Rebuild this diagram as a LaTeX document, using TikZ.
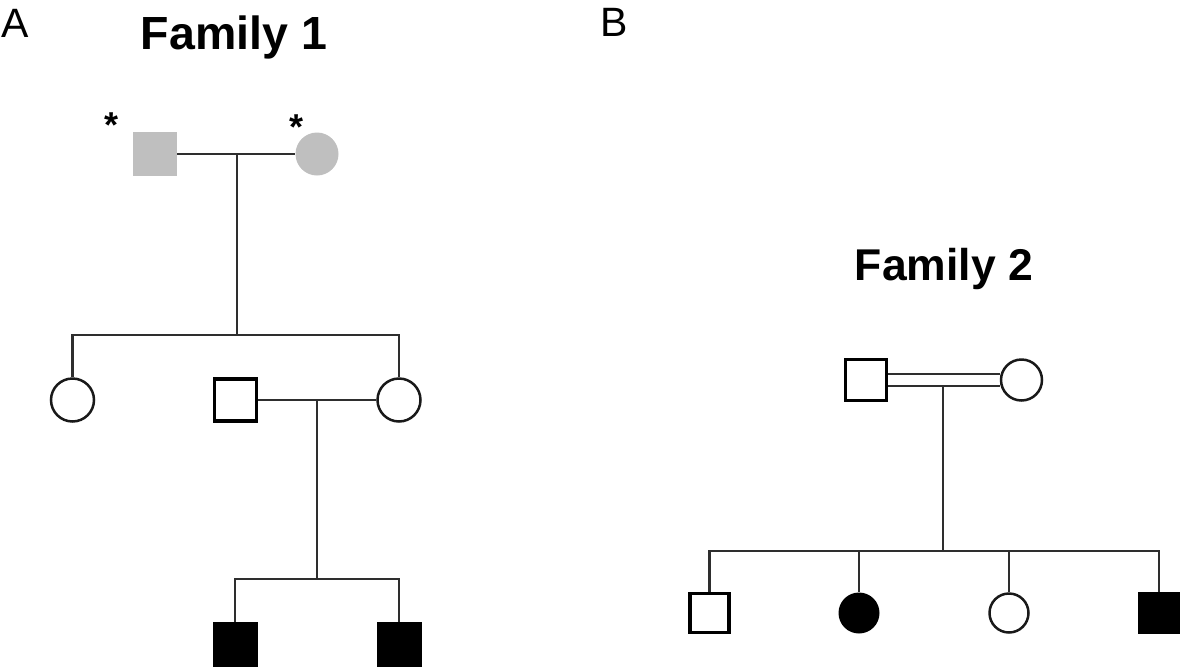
\documentclass[tikz,border=0pt]{standalone}
\usepackage{fontspec}
\setmainfont{Liberation Sans}
\usetikzlibrary{calc}
\definecolor{linec}{HTML}{2E2E2E}
\definecolor{grayfill}{HTML}{BFBFBF}
\tikzset{
  conn/.style={draw=linec, line width=2.4pt},
  male/.style={rectangle, minimum size=44pt, inner sep=0pt},
  female/.style={circle, minimum size=43pt, inner sep=0pt},
  carrier/.style={fill=grayfill, draw=none},
  openthick/.style={draw=black, line width=3.8pt, fill=white},
  openthin/.style={draw=black!90, line width=2.5pt, fill=white},
  affected/.style={fill=black, draw=none},
  panel/.style={anchor=base west, inner sep=0pt, font=\fontsize{41}{44}\selectfont},
  title/.style={anchor=base, inner sep=0pt, font=\fontsize{46.5}{50}\selectfont\bfseries},
  star/.style={anchor=base, inner sep=0pt, font=\fontsize{36}{40}\selectfont\bfseries},
}
\begin{document}
\begin{tikzpicture}[x=1pt, y=-1pt]
\useasboundingbox (0,0) rectangle (1200,670);
% labels
\node[panel] (pa) at (1,37) {A};
\node[panel] (pb) at (600,36) {B};
\node[title] (t1) at (234,49) {Family 1};
\node[title, font=\fontsize{44.5}{48}\selectfont\bfseries] (t2) at (944,280) {Family 2};

% ---------- Family 1 ----------
\node[male, carrier] (f1) at (155,154) {};
\node[female, carrier] (m1) at (317,154) {};
\node[star] (s1) at (112,137) {*};
\node[star] (s2) at (297,139) {*};
\coordinate (j1) at (237,154);
\draw[conn] (f1.east) -- (m1.west);

\node[female, openthin] (c1) at (72.5,400) {};
\node[male, openthick, minimum size=42pt] (h1) at (235.5,400) {};
\node[female, openthin] (c3) at (399,400) {};
\coordinate (sib1) at (237,335);
\coordinate (sib1l) at (72.5,335);
\coordinate (sib1r) at (399,335);
\draw[conn] (j1) -- (sib1);
\draw[conn] (c1.north) -- (sib1l) -- (sib1r) -- (c3.north);
\draw[conn] (h1.east) -- (c3.west);
\coordinate (j2) at (317,400);

\node[male, affected, minimum size=45pt] (g1) at (235,644.5) {};
\node[male, affected, minimum size=45pt] (g2) at (399,644.5) {};
\coordinate (sib2) at (317,579);
\coordinate (sib2l) at (235,579);
\coordinate (sib2r) at (399,579);
\draw[conn] (j2) -- (sib2);
\draw[conn] (g1.north) -- (sib2l) -- (sib2r) -- (g2.north);

% ---------- Family 2 ----------
\node[male, openthick, minimum size=41pt] (p1) at (866,380) {};
\node[female, openthin, minimum size=41pt] (p2) at (1021.5,380) {};
\draw[conn] ($(p1.east)+(0,-6)$) -- ($(p2.west)+(0,-6)$);
\draw[conn] ($(p1.east)+(0,6)$) -- ($(p2.west)+(0,6)$);
\coordinate (j3) at (943,386);
\coordinate (sib3) at (943,551);
\coordinate (sib3l) at (709.5,551);
\coordinate (sib3r) at (1159,551);
\draw[conn] (j3) -- (sib3);

\node[male, openthick, minimum size=39pt] (k1) at (709.5,613) {};
\node[female, affected, minimum size=41pt] (k2) at (859,613) {};
\node[female, openthin, minimum size=39pt] (k3) at (1009,613) {};
\node[male, affected, minimum size=42pt] (k4) at (1159,613) {};
\coordinate (d2) at (859,551);
\coordinate (d3) at (1009,551);
\draw[conn] (k1.north) -- (sib3l) -- (sib3r) -- (k4.north);
\draw[conn] (d2) -- (k2.north);
\draw[conn] (d3) -- (k3.north);
\end{tikzpicture}
\end{document}
